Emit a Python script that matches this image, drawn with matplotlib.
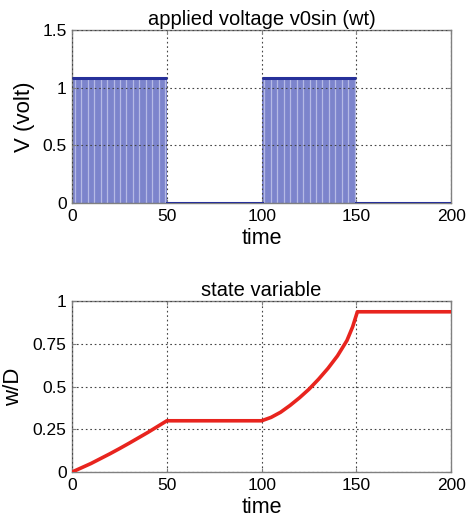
import matplotlib.pyplot as plt
import numpy as np

plt.rcParams["font.family"] = ["Liberation Sans", "DejaVu Sans"]

# applied voltage: amplitude of v0*sin(wt) and the intervals where it is switched on
v0 = 1.08
on_windows = [(0, 50), (100, 150)]
off_windows = [(50, 100), (150, 200)]

# normalised state variable w/D read along the simulation
t_state = [0, 10, 20, 25, 30, 40, 50, 100, 105, 110, 115, 120, 125, 130,
           135, 140, 145, 148, 150.5, 200]
w_state = [0, 0.05, 0.107, 0.137, 0.168, 0.232, 0.3, 0.3, 0.32, 0.35, 0.39,
           0.435, 0.485, 0.543, 0.607, 0.68, 0.77, 0.85, 0.938, 0.938]

x_ticks = [0, 50, 100, 150, 200]
v_ticks = [0, 0.5, 1, 1.5]
w_ticks = [0, 0.25, 0.5, 0.75, 1]
w_ticklabels = ["0", "0.25", "0.5", "0.75", "1"]

fill_c = "#7c84cc"
stripe_c = "#c4c8ec"
line_c = "#26309a"
red = "#e8241e"
spine_c = "#808080"


def style_axes(ax):
    for s in ax.spines.values():
        s.set_color(spine_c)
        s.set_linewidth(1.0)
    ax.tick_params(direction="in", length=3, width=0.8, color=spine_c,
                   labelsize=12.5, pad=4, top=True, right=True)
    ax.grid(True, linestyle=(0, (1.5, 2.5)), color="#444444", linewidth=0.8)
    ax.set_axisbelow(False)


fig = plt.figure(figsize=(4.71, 5.24), dpi=100)
ax1 = fig.add_axes([0.153, 0.6126, 0.805, 0.330])
ax2 = fig.add_axes([0.153, 0.0992, 0.805, 0.326])

# --- applied voltage ---
for t0, t1 in on_windows:
    ax1.fill_between([t0, t1], 0, v0, color=fill_c, linewidth=0, zorder=1)
    # the fast sine leaves lighter bands where its samples thin out
    ax1.vlines(np.arange(t0 + 1.5, t1, 3.4), 0, v0, color=stripe_c,
               linewidth=0.9, alpha=0.8, zorder=1.5)
    ax1.plot([t0, t1], [v0, v0], color=line_c, linewidth=2.2, zorder=3,
             solid_capstyle="butt")
for t0, t1 in off_windows:
    ax1.plot([t0, t1], [0, 0], color=line_c, linewidth=2.2, zorder=3)

ax1.set_xlim(0, 200)
ax1.set_ylim(0, 1.5)
ax1.set_xticks(x_ticks)
ax1.set_yticks(v_ticks)
ax1.set_yticklabels(["0", "0.5", "1", "1.5"])
ax1.set_title("applied voltage v0sin (wt)", fontsize=14.5, pad=4)
ax1.set_xlabel("time", fontsize=15.5, labelpad=3)
ax1.set_ylabel("V (volt)", fontsize=16, labelpad=5)
style_axes(ax1)

# --- state variable ---
ax2.plot(t_state, w_state, color=red, linewidth=2.6, zorder=3)
ax2.set_xlim(0, 200)
ax2.set_ylim(0, 1)
ax2.set_xticks(x_ticks)
ax2.set_yticks(w_ticks)
ax2.set_yticklabels(w_ticklabels)
ax2.set_title("state variable", fontsize=14.5, pad=4)
ax2.set_xlabel("time", fontsize=15.5, labelpad=3)
ax2.set_ylabel("w/D", fontsize=16, labelpad=6)
style_axes(ax2)

fig.savefig("out.png", dpi=100)
